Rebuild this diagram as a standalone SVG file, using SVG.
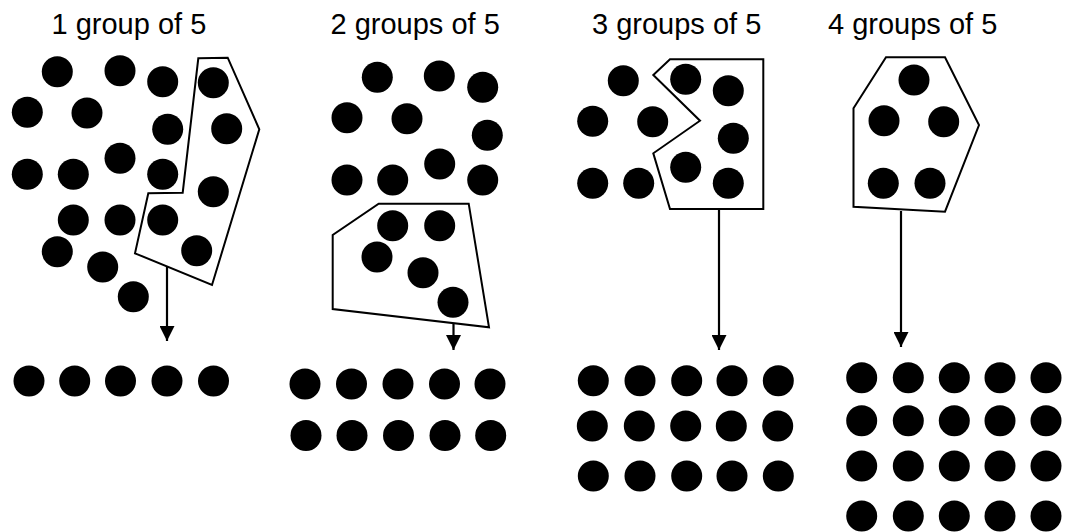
<svg xmlns="http://www.w3.org/2000/svg" width="1066" height="532" viewBox="0 0 1066 532">
<style>
.lbl{font-family:"Liberation Sans",Arial,sans-serif;font-size:29px;fill:#000}
.d{fill:#000}
.grp{fill:none;stroke:#000;stroke-width:2}
.conn{stroke:#000;stroke-width:2.2;fill:none}
</style>
<defs>
<marker id="ah" markerUnits="userSpaceOnUse" markerWidth="15" markerHeight="15" refX="15" refY="7.5" orient="auto">
<path d="M0,0 L15,7.5 L0,15 z" fill="#000"/>
</marker>
<circle id="c" r="15.5"/>
</defs>
<rect width="1066" height="532" fill="#fff"/>
<g id="panel1">
<text class="lbl" x="51.5" y="34">1 group of 5</text>
<polygon class="grp" points="198.3,58.3 227.7,57.7 259.3,129.3 212,285 135,253.3 148.3,193.3 182.7,192.7"/>
<g class="d">
<use href="#c" x="57.3" y="71.7"/><use href="#c" x="120" y="70.7"/><use href="#c" x="162.7" y="81.7"/><use href="#c" x="213.3" y="82.7"/>
<use href="#c" x="27.3" y="112.3"/><use href="#c" x="87" y="113"/><use href="#c" x="167.7" y="129.3"/><use href="#c" x="226.7" y="128.7"/>
<use href="#c" x="120" y="158.3"/><use href="#c" x="27.3" y="174.3"/><use href="#c" x="73.3" y="174.3"/><use href="#c" x="162.7" y="174.3"/>
<use href="#c" x="213.3" y="191.7"/><use href="#c" x="73.3" y="220"/><use href="#c" x="120" y="220"/><use href="#c" x="162.7" y="220"/>
<use href="#c" x="57.3" y="251.7"/><use href="#c" x="196.7" y="250.7"/><use href="#c" x="102.7" y="267"/><use href="#c" x="133.3" y="296.7"/>
</g>
<g class="d">
<use href="#c" x="29" y="381"/><use href="#c" x="74.7" y="381"/><use href="#c" x="120.5" y="381"/><use href="#c" x="167" y="381"/><use href="#c" x="213.5" y="381"/>
</g>
</g>
<g id="panel2">
<text class="lbl" x="330.5" y="34">2 groups of 5</text>
<polygon class="grp" points="378.7,203.7 468.7,203.7 489,327.3 332.7,309 332.7,235"/>
<g class="d">
<use href="#c" x="377.3" y="77.3"/><use href="#c" x="439.3" y="76"/><use href="#c" x="482.7" y="87.3"/>
<use href="#c" x="347" y="117.7"/><use href="#c" x="407" y="118.7"/><use href="#c" x="487.3" y="135.3"/>
<use href="#c" x="439.7" y="164"/><use href="#c" x="347" y="180"/><use href="#c" x="392.7" y="180"/><use href="#c" x="482.7" y="180"/>
<use href="#c" x="392.7" y="225.7"/><use href="#c" x="439.7" y="225.7"/><use href="#c" x="377" y="257"/><use href="#c" x="423" y="272.7"/><use href="#c" x="453" y="302.3"/>
</g>
<g class="d">
<use href="#c" x="305" y="384"/><use href="#c" x="351.5" y="384"/><use href="#c" x="398" y="384"/><use href="#c" x="444.5" y="384"/><use href="#c" x="490" y="384"/>
<use href="#c" x="306" y="435.5"/><use href="#c" x="352" y="435.5"/><use href="#c" x="398.5" y="435.5"/><use href="#c" x="445" y="435.5"/><use href="#c" x="490.7" y="435.5"/>
</g>
</g>
<g id="panel3">
<text class="lbl" x="592" y="34">3 groups of 5</text>
<polygon class="grp" points="670,59.3 763.3,59.3 763.3,209 670,209 653.3,153.3 700,120.7 653.3,75"/>
<g class="d">
<use href="#c" x="623.3" y="80.7"/><use href="#c" x="685.7" y="79.3"/><use href="#c" x="728.3" y="90.7"/>
<use href="#c" x="592.7" y="121.3"/><use href="#c" x="652.7" y="121.7"/><use href="#c" x="733.3" y="138.3"/>
<use href="#c" x="685.7" y="167.3"/><use href="#c" x="592.7" y="183.3"/><use href="#c" x="638.7" y="183.3"/><use href="#c" x="728.3" y="183.3"/>
</g>
<g class="d">
<use href="#c" x="593.3" y="380.7"/><use href="#c" x="640" y="380.7"/><use href="#c" x="686.7" y="380.7"/><use href="#c" x="732" y="380.7"/><use href="#c" x="778.3" y="380.7"/>
<use href="#c" x="592.3" y="426"/><use href="#c" x="639.3" y="426"/><use href="#c" x="685.7" y="426"/><use href="#c" x="731.3" y="426"/><use href="#c" x="777.7" y="426"/>
<use href="#c" x="593.3" y="476"/><use href="#c" x="640" y="476"/><use href="#c" x="686.7" y="476"/><use href="#c" x="732" y="476"/><use href="#c" x="778.3" y="476"/>
</g>
</g>
<g id="panel4">
<text class="lbl" x="828" y="34">4 groups of 5</text>
<polygon class="grp" points="886,57.3 945,57.3 979,125 945,211.7 853.5,206.7 853.5,108.3"/>
<g class="d">
<use href="#c" x="914" y="80"/><use href="#c" x="884" y="120.7"/><use href="#c" x="943.7" y="121.7"/>
<use href="#c" x="883.3" y="183.3"/><use href="#c" x="930" y="183.3"/>
</g>
<g class="d">
<use href="#c" x="861.7" y="377.7"/><use href="#c" x="908.3" y="377.7"/><use href="#c" x="954.3" y="377.7"/><use href="#c" x="1000" y="377.7"/><use href="#c" x="1046" y="377.7"/>
<use href="#c" x="861.7" y="420.7"/><use href="#c" x="908.3" y="420.7"/><use href="#c" x="954.3" y="420.7"/><use href="#c" x="1000" y="420.7"/><use href="#c" x="1046" y="420.7"/>
<use href="#c" x="861.7" y="466"/><use href="#c" x="908.3" y="466"/><use href="#c" x="954.3" y="466"/><use href="#c" x="1000" y="466"/><use href="#c" x="1046" y="466"/>
<use href="#c" x="861.7" y="516"/><use href="#c" x="908.3" y="516"/><use href="#c" x="954.3" y="516"/><use href="#c" x="1000" y="516"/><use href="#c" x="1046" y="516"/>
</g>
</g>
<g id="connectors">
<line class="conn" x1="167" y1="267" x2="167" y2="341" marker-end="url(#ah)"/>
<line class="conn" x1="453.5" y1="324" x2="453.5" y2="350" marker-end="url(#ah)"/>
<line class="conn" x1="719" y1="209" x2="719" y2="350" marker-end="url(#ah)"/>
<line class="conn" x1="901" y1="211" x2="901" y2="347" marker-end="url(#ah)"/>
</g>
</svg>
